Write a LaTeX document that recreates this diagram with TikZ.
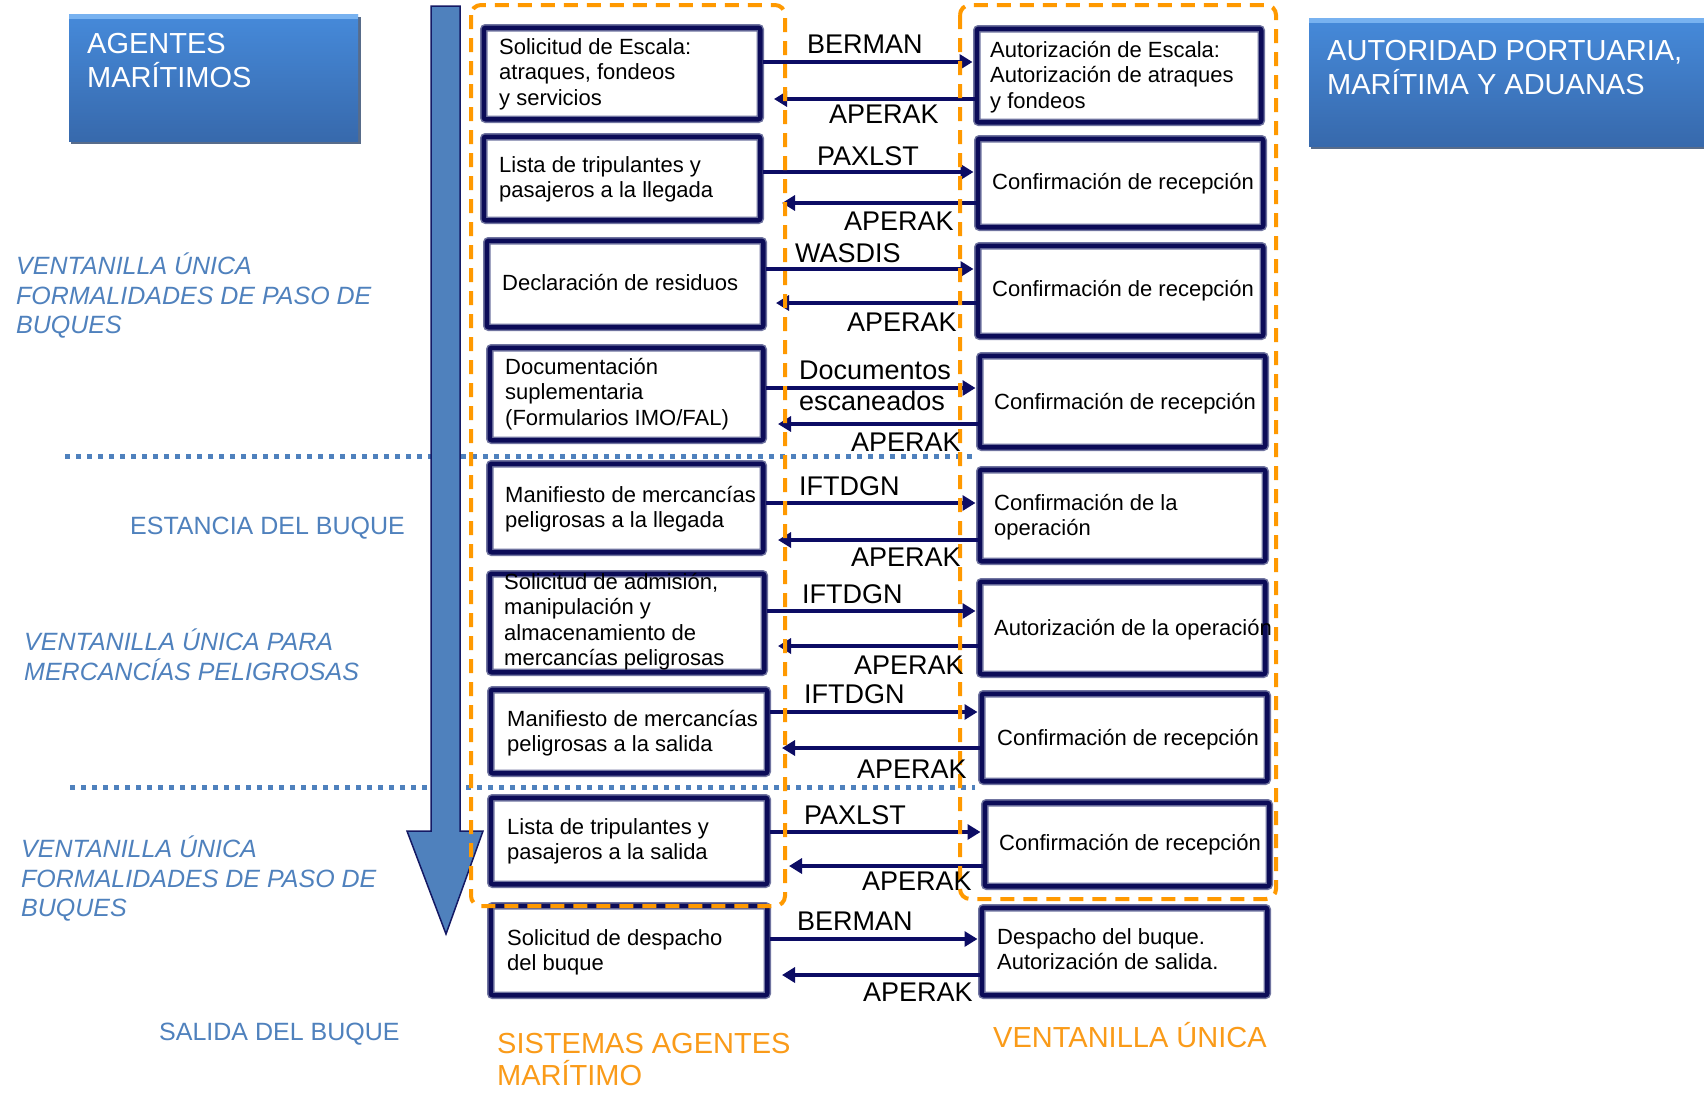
\documentclass[tikz,border=0pt]{standalone}
\usepackage{fontspec}
\setmainfont{Liberation Sans}
\usetikzlibrary{arrows.meta}
\definecolor{navy}{RGB}{12,12,88}
\definecolor{slatec}{RGB}{112,116,160}
\definecolor{steel}{RGB}{79,129,189}
\definecolor{orng}{RGB}{255,153,0}
\definecolor{orngtxt}{RGB}{250,155,25}
\definecolor{bluetop}{RGB}{70,138,218}
\definecolor{bluebot}{RGB}{55,105,172}
\definecolor{blueshadow}{RGB}{88,108,138}
\definecolor{bluehi}{RGB}{120,178,240}
\definecolor{arrowline}{RGB}{20,25,100}
\definecolor{arrnavy}{RGB}{12,12,100}
\newcommand\mkbox[5]{\node[bx, minimum width={#4-#2-7.5}, minimum height={#5-#3-7.5}] (#1) at ({(#2+#4)/2},{(#3+#5)/2}) {};}
\begin{document}
\begin{tikzpicture}[x=1pt,y=-1pt,
  bx/.style={draw=navy, line width=4.5pt, rounded corners=2pt, inner sep=0pt,
     preaction={fill=white, draw=slatec, line width=7.5pt}},
  btxt/.style={anchor=north west, inner sep=0pt, align=left, font=\fontsize{22}{25.5}\selectfont},
  arr/.style={draw=arrnavy, line width=4.5pt, -{Triangle[length=13pt,width=15pt]}},
  lbl/.style={anchor=base west, inner sep=0pt, font=\fontsize{27}{30}\selectfont},
  side/.style={anchor=north west, inner sep=0pt, align=left, text=steel, font=\fontsize{25}{29.5}\selectfont\itshape},
  sideup/.style={anchor=base west, inner sep=0pt, text=steel, font=\fontsize{25}{29.5}\selectfont},
  otxt/.style={anchor=north west, inner sep=0pt, align=left, text=orngtxt, font=\fontsize{29}{32}\selectfont},
  wtxt/.style={anchor=north west, inner sep=0pt, align=left, text=white, font=\fontsize{29}{34}\selectfont},
  bluebox/.style={inner sep=0pt, top color=bluetop, bottom color=bluebot, draw=none},
  odash/.style={draw=orng, line width=4pt, dash pattern=on 14pt off 9pt, rounded corners=10pt},
  dots/.style={draw=steel, line width=5pt, dash pattern=on 5pt off 6pt},
  bigarr/.style={fill=steel, draw=arrowline, line width=1.5pt, line join=miter}
]
\useasboundingbox (0,0) rectangle (1704,1092);
\fill[white] (0,0) rectangle (1704,1092);

% dotted phase separators
\draw[dots] (65,456) -- (972,456);
\draw[dots] (70,787) -- (975,787);

% big time arrow
\draw[bigarr] (431,6) -- (460,6) -- (460,831) -- (483,831) -- (446,934) -- (407,831) -- (431,831) -- cycle;

% blue header boxes
\fill[blueshadow] (71,17) rectangle (361,144);
\node[bluebox, minimum width=289, minimum height=127] (agentes) at (213.5,77.5) {};
\fill[bluehi] (69,14) rectangle (358,19);
\node[wtxt] (agentest) at (87,33) {AGENTES\\MARÍTIMOS};
\fill[blueshadow] (1311,21) rectangle (1710,149);
\node[bluebox, minimum width=401, minimum height=128] (autoridad) at (1509.5,82) {};
\fill[bluehi] (1309,18) rectangle (1710,23);
\node[wtxt] (autoridadt) at (1327,40) {AUTORIDAD PORTUARIA,\\MARÍTIMA Y ADUANAS};

% left column boxes
\mkbox{L1}{480}{24}{764}{123}
\mkbox{L2}{480}{133}{764}{224}
\mkbox{L3}{483}{237}{767}{331}
\mkbox{L4}{486}{344}{767}{444}
\mkbox{L5}{486}{460}{767}{556}
\mkbox{L6}{486}{570}{768}{676}
\mkbox{L7}{487}{686}{771}{777}
\mkbox{L8}{487}{794}{771}{888}
\mkbox{L9}{487}{902}{771}{999}
% right column boxes
\mkbox{R1}{973}{25}{1265}{126}
\mkbox{R2}{974}{135}{1267}{231}
\mkbox{R3}{974}{242}{1267}{340}
\mkbox{R4}{976}{352}{1269}{451}
\mkbox{R5}{976}{466}{1269}{565}
\mkbox{R6}{976}{578}{1269}{678}
\mkbox{R7}{978}{690}{1271}{785}
\mkbox{R8}{981}{799}{1273}{890}
\mkbox{R9}{978}{904}{1271}{999}

% connectors
\foreach \n/\ya/\yb/\xt in {1/62/99/774, 2/172/203/782, 3/269/303/776, 4/388/424/778,
   5/503/540/778, 6/611/646/778, 7/712/748/782, 8/832/866/789, 9/939/975/782} {
  \coordinate (e\n) at (\xt,\yb);
  \draw[arr, shorten >=2pt] (L\n.east |- 0,\ya) -- (R\n.west |- 0,\ya);
  \draw[arr] (R\n.west |- e\n) -- (e\n);
}

% orange group frames
\draw[odash] (471,5) rectangle (785,906);
\draw[odash] (960,5) rectangle (1276,899);

% box texts
\node[btxt] (L1t) at (499,38) {Solicitud de Escala:\\atraques, fondeos\\y servicios};
\node[btxt] (L2t) at (499,156) {Lista de tripulantes y\\pasajeros a la llegada};
\node[btxt] (L3t) at (502,274) {Declaración de residuos};
\node[btxt] (L4t) at (505,358) {Documentación\\suplementaria\\(Formularios IMO/FAL)};
\node[btxt] (L5t) at (505,486) {Manifiesto de mercancías\\peligrosas a la llegada};
\node[btxt] (L6t) at (504,573) {Solicitud de admisión,\\manipulación y\\almacenamiento de\\mercancías peligrosas};
\node[btxt] (L7t) at (507,710) {Manifiesto de mercancías\\peligrosas a la salida};
\node[btxt] (L8t) at (507,818) {Lista de tripulantes y\\pasajeros a la salida};
\node[btxt] (L9t) at (507,929) {Solicitud de despacho\\del buque};

\node[btxt] (R1t) at (990,41) {Autorización de Escala:\\Autorización de atraques\\y fondeos};
\node[btxt] (R2t) at (992,173) {Confirmación de recepción};
\node[btxt] (R3t) at (992,280) {Confirmación de recepción};
\node[btxt] (R4t) at (994,393) {Confirmación de recepción};
\node[btxt] (R5t) at (994,494) {Confirmación de la\\operación};
\node[btxt] (R6t) at (994,619) {Autorización de la operación};
\node[btxt] (R7t) at (997,729) {Confirmación de recepción};
\node[btxt] (R8t) at (999,834) {Confirmación de recepción};
\node[btxt] (R9t) at (997,928) {Despacho del buque.\\Autorización de salida.};

% message labels
\node[lbl] (m1) at (807,53) {BERMAN};
\node[lbl] (a1) at (829,123) {APERAK};
\node[lbl] (m2) at (817,165) {PAXLST};
\node[lbl] (a2) at (844,230) {APERAK};
\node[lbl] (m3) at (795,262) {WASDIS};
\node[lbl] (a3) at (847,331) {APERAK};
\node[lbl] (m4) at (799,379) {Documentos};
\node[lbl] (m4b) at (799,410) {escaneados};
\node[lbl] (a4) at (851,451) {APERAK};
\node[lbl] (m5) at (799,495) {IFTDGN};
\node[lbl] (a5) at (851,566) {APERAK};
\node[lbl] (m6) at (802,603) {IFTDGN};
\node[lbl] (a6) at (854,674) {APERAK};
\node[lbl] (m7) at (804,703) {IFTDGN};
\node[lbl] (a7) at (857,778) {APERAK};
\node[lbl] (m8) at (804,824) {PAXLST};
\node[lbl] (a8) at (862,890) {APERAK};
\node[lbl] (m9) at (797,930) {BERMAN};
\node[lbl] (a9) at (863,1001) {APERAK};

% side phase labels
\node[side] (s1) at (16,253) {VENTANILLA ÚNICA\\FORMALIDADES DE  PASO DE\\BUQUES};
\node[sideup] (s2) at (130,534) {ESTANCIA DEL BUQUE};
\node[side] (s3) at (24,629) {VENTANILLA ÚNICA  PARA\\MERCANCÍAS PELIGROSAS};
\node[side] (s4) at (21,836) {VENTANILLA ÚNICA\\FORMALIDADES DE  PASO DE\\BUQUES};
\node[sideup] (s5) at (159,1040) {SALIDA DEL BUQUE};

% system labels
\node[otxt] (sys1) at (497,1033) {SISTEMAS AGENTES\\MARÍTIMO};
\node[anchor=base west, inner sep=0pt, text=orngtxt, font=\fontsize{29}{35}\selectfont] (sys2) at (993,1047) {VENTANILLA ÚNICA};
\end{tikzpicture}
\end{document}
